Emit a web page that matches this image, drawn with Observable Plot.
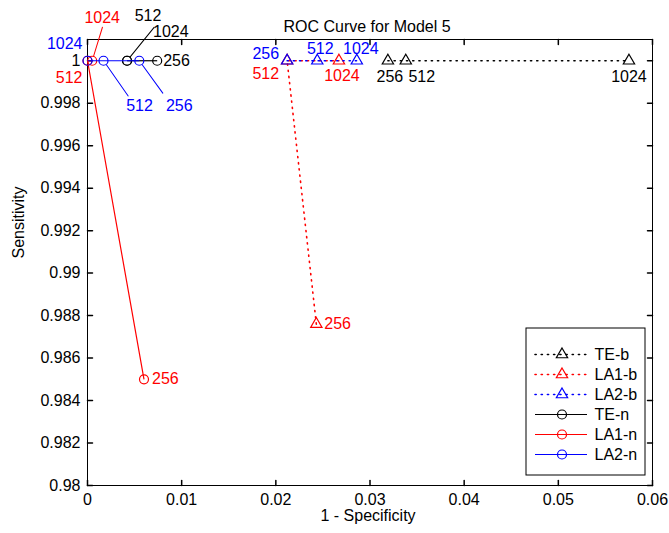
<!DOCTYPE html>
<html><head><meta charset="utf-8">
<script src="https://cdn.jsdelivr.net/npm/d3@7"></script>
<script src="https://cdn.jsdelivr.net/npm/@observablehq/plot@0.6"></script>
<style>
body{margin:0;background:#fff}
#wrap{position:relative;width:669px;height:533px}
#wrap svg{overflow:visible}
</style>
</head><body><div id="wrap"></div>
<script>
// ---- data ----
const seriesNames = ["TE-b", "LA1-b", "LA2-b", "TE-n", "LA1-n", "LA2-n"];
const windowSizes = [256, 512, 1024];
const fprTEb  = [0.0319, 0.0338, 0.0575];
const sensTEb = [1, 1, 1];
const fprLA1b  = [0.0243, 0.0212, 0.0267];
const sensLA1b = [0.9876, 1, 1];
const fprLA2b  = [0.0212, 0.0244, 0.0286];
const sensLA2b = [1, 1, 1];
const fprTEn  = [0.0074, 0.0042, 0.0042];
const sensTEn = [1, 1, 1];
const fprLA1n  = [0.0060, 0, 0.0005];
const sensLA1n = [0.985, 1, 1];
const fprLA2n  = [0.0055, 0.0017, 0];
const sensLA2n = [1, 1, 1];
const xTicks = [0, 0.01, 0.02, 0.03, 0.04, 0.05, 0.06];
const yTicks = [0.98, 0.982, 0.984, 0.986, 0.988, 0.99, 0.992, 0.994, 0.996, 0.998, 1];
const titleText = "ROC Curve for Model 5";
const xLabel = "1 - Specificity";
const yLabel = "Sensitivity";

// ---- styles ----
const seriesColor = ["black", "red", "blue", "black", "red", "blue"];
const seriesDotted = [true, true, true, false, false, false];
const seriesSymbol = ["triangle", "triangle", "triangle", "circle", "circle", "circle"];
// label placement (pixel offsets) per series, in windowSizes order; lead = [length, rotation°]
const labelPlacement = [
  [{dx: 2, dy: 16}, {dx: 16, dy: 16}, {dx: 0, dy: 16}],
  [{dx: 8, dy: 0, anchor: "start"}, {dx: -8, dy: 13, anchor: "end"}, {dx: 3, dy: 15}],
  [{dx: -8, dy: -7, anchor: "end"}, {dx: 3, dy: -12}, {dx: 4, dy: -12}],
  [{dx: 6, dy: 0, anchor: "start"}, {dx: 21, dy: -45}, {dx: 26, dy: -29, anchor: "start", lead: [43, 39]}],
  [{dx: 8, dy: 0, anchor: "start"}, {dx: -5, dy: 17, anchor: "end"}, {dx: 10, dy: -43, lead: [35, 17]}],
  [{dx: 40, dy: 45, lead: [40, 144]}, {dx: 36, dy: 45, lead: [43, 145]}, {dx: -5, dy: -17, anchor: "end"}]
];

const fprValues = [fprTEb, fprLA1b, fprLA2b, fprTEn, fprLA1n, fprLA2n];
const sensValues = [sensTEb, sensLA1b, sensLA2b, sensTEn, sensLA1n, sensLA2n];
const rows = seriesNames.flatMap((s, i) => windowSizes.map((w, j) => ({
  series: s, size: w, fpr: fprValues[i][j], sens: sensValues[i][j], i, j
})));

const font = "'Liberation Sans', Arial, Helvetica, sans-serif";
const lineShape = {draw(context, l) { context.moveTo(0, 0); context.lineTo(0, -l); }};
const leadShape = {draw(context, l) { context.moveTo(0, -5); context.lineTo(0, -l); }};
const fmt = d => String(+(+d).toFixed(3));

const marks = [];
seriesNames.forEach((s, i) => {
  const data = rows.filter(d => d.i === i);
  marks.push(Plot.line(data, {
    x: "fpr", y: "sens", stroke: seriesColor[i], strokeWidth: seriesDotted[i] ? 1.6 : 1.2,
    strokeDasharray: seriesDotted[i] ? "1.2,5" : null, strokeLinecap: seriesDotted[i] ? "round" : "butt"
  }));
  marks.push(Plot.dot(data, {
    x: "fpr", y: "sens", symbol: seriesSymbol[i], r: seriesSymbol[i] === "triangle" ? 4.2 : 4.5,
    stroke: seriesColor[i], fill: "none", strokeWidth: 1.2
  }));
});
rows.forEach(d => {
  const p = labelPlacement[d.i][d.j];
  if (p.lead) {
    marks.push(Plot.vector([d], {
      x: "fpr", y: "sens", length: p.lead[0], rotate: p.lead[1], anchor: "start",
      shape: leadShape, stroke: seriesColor[d.i], strokeWidth: 1
    }));
  }
  marks.push(Plot.text([d], {
    x: "fpr", y: "sens", text: d => String(d.size), dx: p.dx, dy: p.dy,
    textAnchor: p.anchor || "middle", fill: seriesColor[d.i], fontSize: 16
  }));
});

const chart = Plot.plot({
  width: 669, height: 533,
  marginLeft: 87, marginRight: 17, marginTop: 39, marginBottom: 48,
  style: {fontFamily: font, fontSize: "16px", background: "white", color: "black"},
  x: {domain: [0, 0.06]},
  y: {domain: [0.98, 1.001]},
  marks: [
    Plot.frame({stroke: "black", strokeWidth: 1}),
    Plot.vector(xTicks, {x: d => d, frameAnchor: "bottom", length: 5, rotate: 0, anchor: "start", shape: lineShape, stroke: "black"}),
    Plot.vector(xTicks, {x: d => d, frameAnchor: "top", length: 5, rotate: 180, anchor: "start", shape: lineShape, stroke: "black"}),
    Plot.vector(yTicks, {y: d => d, frameAnchor: "left", length: 5, rotate: 90, anchor: "start", shape: lineShape, stroke: "black"}),
    Plot.vector(yTicks, {y: d => d, frameAnchor: "right", length: 5, rotate: -90, anchor: "start", shape: lineShape, stroke: "black"}),
    Plot.axisX(xTicks, {tickSize: 0, tickPadding: 8, label: null, tickFormat: fmt, fontSize: 16}),
    Plot.axisY(yTicks, {tickSize: 0, tickPadding: 7, label: null, tickFormat: fmt, fontSize: 16}),
    ...marks,
    Plot.text([titleText], {text: d => d, frameAnchor: "top", dy: -19, dx: -3, fontSize: 16}),
    Plot.text([xLabel], {text: d => d, frameAnchor: "bottom", dy: 35, dx: -2, fontSize: 16}),
    Plot.text([yLabel], {text: d => d, frameAnchor: "left", dx: -69, dy: -4, rotate: -90, fontSize: 16})
  ]
});

// ---- legend (drawn with Plot, overlaid inside the axes) ----
const legendRows = seriesNames.map((name, i) => ({name, color: seriesColor[i], dotted: seriesDotted[i], symbol: seriesSymbol[i]}));
const legend = Plot.plot({
  width: 120, height: 148, margin: 0,
  style: {fontFamily: font, fontSize: "16px", background: "transparent"},
  x: {domain: [0, 120], range: [0, 120], axis: null},
  y: {type: "point", domain: seriesNames, range: [16, 137], axis: null},
  marks: [
    Plot.frame({stroke: "black", fill: "white", inset: 0.5}),
    Plot.ruleY(legendRows.filter(d => d.dotted), {y: "name", x1: 10, x2: 62, stroke: "color", strokeWidth: 1.6, strokeDasharray: "1.2,5", strokeLinecap: "round"}),
    Plot.ruleY(legendRows.filter(d => !d.dotted), {y: "name", x1: 10, x2: 62, stroke: "color", strokeWidth: 1.2}),
    Plot.dot(legendRows.filter(d => d.symbol === "triangle"), {x: 36.5, y: "name", symbol: "triangle", r: 4.2, stroke: "color", fill: "none", strokeWidth: 1.2}),
    Plot.dot(legendRows.filter(d => d.symbol === "circle"), {x: 36.5, y: "name", symbol: "circle", r: 4.5, stroke: "color", fill: "none", strokeWidth: 1.2}),
    Plot.text(legendRows, {x: 69, y: "name", text: "name", textAnchor: "start", fill: "black", fontSize: 16})
  ]
});
legend.style.position = "absolute";
legend.style.left = "525px";
legend.style.top = "327px";
legend.style.maxWidth = "none";

const wrap = document.getElementById("wrap");
wrap.appendChild(chart);
wrap.appendChild(legend);
</script>
</body></html>
